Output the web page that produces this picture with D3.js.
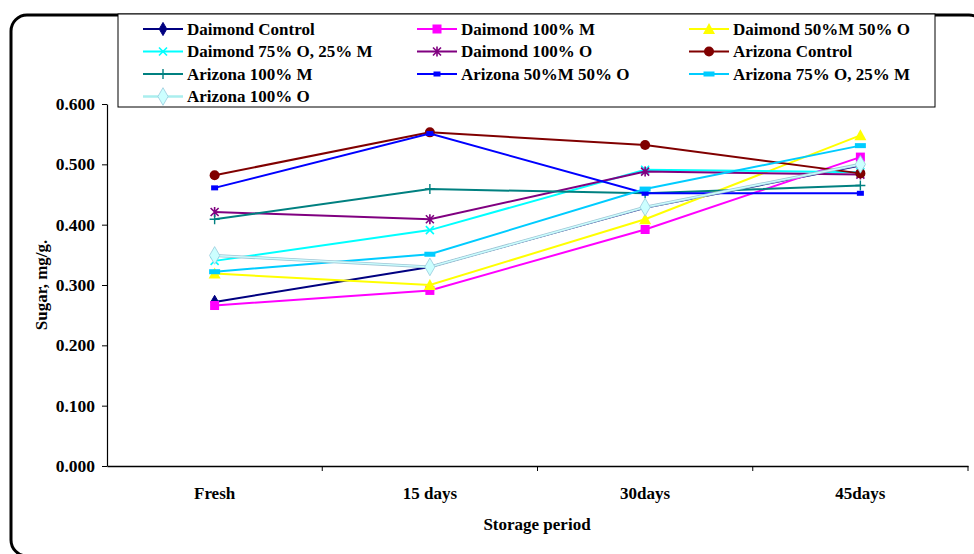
<!DOCTYPE html>
<html><head><meta charset="utf-8">
<script src="https://cdn.jsdelivr.net/npm/d3@7"></script>
<style>body{margin:0;background:#fff}svg{display:block}</style>
</head><body><svg id="c" width="974" height="554"></svg>
<script>
const categories = ["Fresh", "15 days", "30days", "45days"];
const yTicks = [0, 0.1, 0.2, 0.3, 0.4, 0.5, 0.6];
const seriesNames = ["Daimond Control","Daimond 100% M","Daimond 50%M 50% O","Daimond 75% O, 25% M","Daimond 100% O","Arizona Control","Arizona 100% M","Arizona 50%M 50% O","Arizona 75% O, 25% M","Arizona 100% O"];
const daimondControl = [0.272, 0.330, 0.428, 0.498];
const daimond100M   = [0.266, 0.291, 0.392, 0.512];
const daimond5050   = [0.319, 0.300, 0.409, 0.548];
const daimond75O    = [0.340, 0.391, 0.491, 0.487];
const daimond100O   = [0.421, 0.409, 0.488, 0.483];
const arizonaControl= [0.482, 0.553, 0.532, 0.485];
const arizona100M   = [0.409, 0.459, 0.452, 0.465];
const arizona5050   = [0.461, 0.551, 0.452, 0.452];
const arizona75O    = [0.322, 0.351, 0.459, 0.531];
const arizona100O   = [0.349, 0.330, 0.429, 0.500];
const colors = ["#000080","#FF00FF","#FFFF00","#00FFFF","#800080","#800000","#008080","#0000FF","#00CCFF","#CCFFFF"];
const markers = ["diamond","square","triangle","x","star","circle","plus","smallrect","rect","lightdiamond"];
const values = [daimondControl,daimond100M,daimond5050,daimond75O,daimond100O,arizonaControl,arizona100M,arizona5050,arizona75O,arizona100O];

const FONT = "Liberation Serif";
const FS = "17px";
function styleText(sel){ return sel.style("font-family",FONT).style("font-weight","bold").style("font-size",FS).attr("fill","#000"); }
const svg = d3.select("#c");
// outer frame
svg.append("rect").attr("x",11).attr("y",15).attr("width",974).attr("height",541).attr("rx",16)
  .attr("fill","none").attr("stroke","#000").attr("stroke-width",3);

const x = d3.scaleBand().domain(categories).range([107,968]);
const y = d3.scaleLinear().domain([0,0.6]).range([466,104]);

// y axis
const ya = svg.append("g").attr("transform","translate(107,0)")
  .call(d3.axisLeft(y).tickValues(yTicks).tickFormat(d3.format(".3f")).tickSize(5).tickSizeOuter(0));
ya.select(".domain").attr("stroke","#000").attr("stroke-width",1.2);
ya.selectAll(".tick line").attr("stroke","#000");
styleText(ya.selectAll("text")).style("font-size","17.5px").attr("dx",-4);

// x axis
const xa = svg.append("g").attr("transform","translate(0,466)")
  .call(d3.axisBottom(x).tickSize(0).tickSizeOuter(0));
xa.select(".domain").attr("stroke","#000").attr("stroke-width",1.5);
styleText(xa.selectAll("text")).attr("dy",30);
const bounds = categories.map(c=>x(c)).concat([x.range()[1]]);
svg.append("g").selectAll("line").data(bounds.slice(1)).join("line")
  .attr("x1",d=>d).attr("x2",d=>d).attr("y1",466).attr("y2",471).attr("stroke","#000");

styleText(svg.append("text").attr("x",537).attr("y",530).attr("text-anchor","middle")).text("Storage period");
styleText(svg.append("text").attr("transform","translate(47,285) rotate(-90)").attr("text-anchor","middle")).text("Sugar, mg/g.");

function drawMarker(g, type, color){
  switch(type){
    case "diamond": g.append("path").attr("d",d3.symbol(d3.symbolDiamond,50)()).attr("fill",color).attr("stroke",color); break;
    case "square": g.append("rect").attr("x",-4.5).attr("y",-4.5).attr("width",9).attr("height",9).attr("fill",color); break;
    case "triangle": g.append("path").attr("d","M0,-6L6,5L-6,5Z").attr("fill",color); break;
    case "x": g.append("path").attr("d","M-4,-4L4,4M-4,4L4,-4").attr("stroke",color).attr("stroke-width",1.6); break;
    case "star": g.append("path").attr("d","M-4,-4L4,4M-4,4L4,-4M0,-5L0,5").attr("stroke",color).attr("stroke-width",1.6); break;
    case "circle": g.append("circle").attr("r",5).attr("fill",color); break;
    case "plus": g.append("path").attr("d","M-5,0L5,0M0,-5L0,5").attr("stroke",color).attr("stroke-width",1.4); break;
    case "smallrect": g.append("rect").attr("x",-3.5).attr("y",-2.5).attr("width",7).attr("height",5).attr("fill",color); break;
    case "rect": g.append("rect").attr("x",-5.5).attr("y",-2.5).attr("width",11).attr("height",5).attr("fill",color); break;
    case "lightdiamond": g.append("path").attr("d",d3.symbol(d3.symbolDiamond,90)()).attr("fill",color).attr("stroke","#99CCDD").attr("stroke-width",0.8); break;
  }
}

const line = d3.line().x((d,i)=>x(categories[i])+x.bandwidth()/2).y(d=>y(d));
values.forEach((vals,si)=>{
  const g = svg.append("g");
  if(markers[si]==="lightdiamond"){
    g.append("path").attr("d",line(vals)).attr("fill","none").attr("stroke","#9FC6D6").attr("stroke-width",3);
    g.append("path").attr("d",line(vals)).attr("fill","none").attr("stroke",colors[si]).attr("stroke-width",1.4);
  } else {
    g.append("path").attr("d",line(vals)).attr("fill","none").attr("stroke",colors[si]).attr("stroke-width",2);
  }
  vals.forEach((v,i)=>{
    const mg = g.append("g").attr("transform",`translate(${x(categories[i])+x.bandwidth()/2},${y(v)})`);
    drawMarker(mg, markers[si], colors[si]);
  });
});

// legend
const lg = svg.append("g");
lg.append("rect").attr("x",118).attr("y",14).attr("width",817).attr("height",93).attr("fill","#fff").attr("stroke","#000").attr("stroke-width",1);
const colX = [143, 417, 689];
const rowY = [29, 51.5, 74, 96.5];
seriesNames.forEach((name,i)=>{
  const cx = colX[i%3], cy = rowY[Math.floor(i/3)];
  const g = lg.append("g");
  if(markers[i]==="lightdiamond"){
    g.append("line").attr("x1",cx).attr("x2",cx+40).attr("y1",cy).attr("y2",cy).attr("stroke","#AEE").attr("stroke-width",2.5);
  } else {
    g.append("line").attr("x1",cx).attr("x2",cx+40).attr("y1",cy).attr("y2",cy).attr("stroke",colors[i]).attr("stroke-width",2);
  }
  drawMarker(g.append("g").attr("transform",`translate(${cx+20},${cy})`), markers[i], colors[i]);
  styleText(g.append("text").attr("x",cx+44).attr("y",cy+5.5)).text(name);
});
</script></body></html>
